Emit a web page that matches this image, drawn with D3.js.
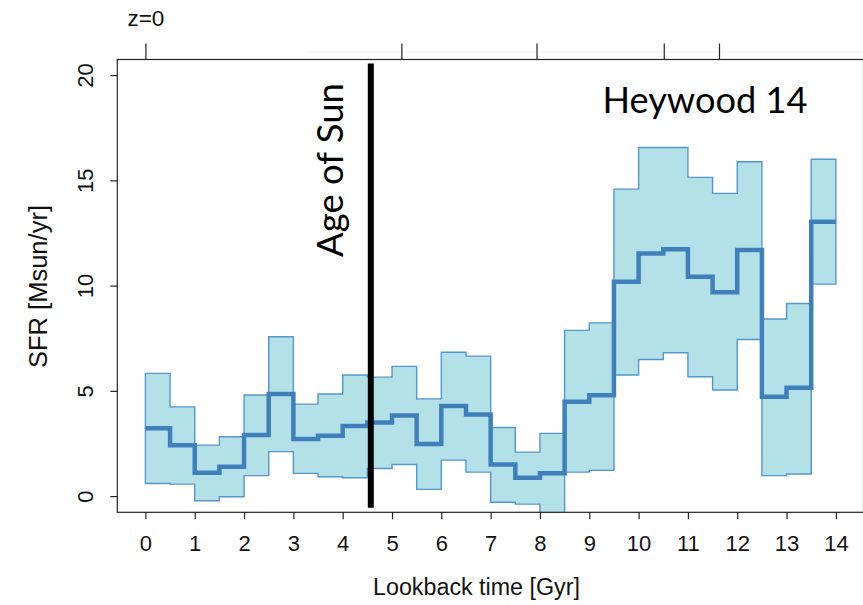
<!DOCTYPE html>
<html>
<head>
<meta charset="utf-8">
<script src="https://cdn.jsdelivr.net/npm/d3@7"></script>
<style>
  html, body { margin: 0; padding: 0; background: #fff; }
  svg { display: block; }
</style>
</head>
<body>
<svg id="chart" width="863" height="605"></svg>
<script>
// ---------- data ----------
const binEdges = d3.range(0, 14.01, 0.5);            // lookback time bin edges [Gyr]
const sfrMedian = [3.22, 2.42, 1.11, 1.39, 2.90, 4.85, 2.71, 2.87, 3.33, 3.50,
                   3.83, 2.47, 4.28, 3.88, 1.50, 0.87, 1.08, 4.48, 4.79, 10.18,
                   11.52, 11.73, 10.42, 9.68, 11.69, 4.72, 5.15, 13.03];
const sfrUpper  = [5.83, 4.24, 2.42, 2.82, 4.80, 7.57, 4.37, 4.85, 5.75, 5.65,
                   6.16, 4.62, 6.83, 6.65, 3.26, 2.09, 2.98, 7.87, 8.23, 14.58,
                   16.56, 16.56, 15.14, 14.38, 15.88, 8.41, 9.15, 16.00];
const sfrLower  = [0.60, 0.57, -0.22, -0.03, 0.97, 2.11, 1.08, 0.92, 0.87, 1.31,
                   1.50, 0.32, 1.71, 1.14, -0.29, -0.38, -1.50, 1.14, 1.22, 5.75,
                   6.49, 6.81, 5.67, 5.04, 7.44, 0.97, 1.05, 10.07];
const xTicks = d3.range(0, 15, 1);
const yTicks = [0, 5, 10, 15, 20];
const topTickLookback = [0, 5.19, 7.93, 10.51, 11.63];   // z = 0, 0.5, 1, 2, 3
const topTickLabels   = ["z=0", "", "", "", ""];
const sunAge = 4.57;
const sunLineSpan = [-0.55, 20.55];
const xTitle = "Lookback time [Gyr]";
const yTitle = "SFR [Msun/yr]";
const sunLabel = "Age of Sun";
const modelLabel = "Heywood 14";

// ---------- layout ----------
const svg = d3.select("#chart");
const box = { left: 117.3, right: 863.5, top: 59.5, bottom: 512.3 };
const x = d3.scaleLinear().domain([-0.57, 14.56]).range([box.left, box.right]);
const y = d3.scaleLinear().domain([-0.77, 20.74]).range([box.bottom, box.top]);

const axisFont = "'Liberation Sans', Arial, Helvetica, sans-serif";
const noteFont = "Lato, 'Open Sans', sans-serif";

function fitText(sel, target) {
  const fs = parseFloat(sel.attr("font-size"));
  const L = sel.node().getComputedTextLength();
  if (L > 0) sel.attr("font-size", fs * target / L);
  return sel;
}

// faint line at top (pasted-panel edge)
svg.append("line")
  .attr("x1", 307).attr("x2", 863).attr("y1", 52).attr("y2", 52)
  .attr("stroke", "#f0f0f0").attr("stroke-width", 1);

// clip
svg.append("defs").append("clipPath").attr("id", "plotclip")
  .append("rect")
  .attr("x", box.left).attr("y", box.top)
  .attr("width", box.right - box.left).attr("height", box.bottom - box.top);

// step data points
const pts = sfrMedian.map((m, i) => ({ t: binEdges[i], m, u: sfrUpper[i], l: sfrLower[i] }));
const last = pts[pts.length - 1];
pts.push({ t: binEdges[binEdges.length - 1], m: last.m, u: last.u, l: last.l });

const plot = svg.append("g").attr("clip-path", "url(#plotclip)");

const area = d3.area()
  .curve(d3.curveStepAfter)
  .x(d => x(d.t)).y0(d => y(d.l)).y1(d => y(d.u));
plot.append("path")
  .datum(pts)
  .attr("d", area)
  .attr("fill", "#b4e1e8")
  .attr("stroke", "#5596cc")
  .attr("stroke-width", 1.4)
  .attr("stroke-linejoin", "miter");

const line = d3.line()
  .curve(d3.curveStepAfter)
  .x(d => x(d.t)).y(d => y(d.m));
plot.append("path")
  .datum(pts)
  .attr("d", line)
  .attr("fill", "none")
  .attr("stroke", "#4080ba")
  .attr("stroke-width", 4.5)
  .attr("stroke-linejoin", "miter");

// Age of Sun line
svg.append("line")
  .attr("x1", x(sunAge)).attr("x2", x(sunAge))
  .attr("y1", y(sunLineSpan[1])).attr("y2", y(sunLineSpan[0]))
  .attr("stroke", "#000").attr("stroke-width", 6);

// box
svg.append("rect")
  .attr("x", box.left).attr("y", box.top)
  .attr("width", box.right - box.left).attr("height", box.bottom - box.top)
  .attr("fill", "none").attr("stroke", "#222").attr("stroke-width", 1.2);

// bottom axis
const xAxis = d3.axisBottom(x).tickValues(xTicks).tickSize(7).tickPadding(0).tickFormat(d3.format("d"));
const gx = svg.append("g").attr("transform", `translate(0,${box.bottom})`).call(xAxis);
gx.select(".domain").remove();
gx.selectAll(".tick line").attr("stroke", "#222").attr("stroke-width", 1.2);
gx.selectAll(".tick text")
  .attr("font-family", axisFont).attr("font-size", 22).attr("fill", "#111")
  .attr("dy", null).attr("y", 39);

// left axis (rotated labels)
const yAxis = d3.axisLeft(y).tickValues(yTicks).tickSize(7).tickFormat(d3.format("d"));
const gy = svg.append("g").attr("transform", `translate(${box.left},0)`).call(yAxis);
gy.select(".domain").remove();
gy.selectAll(".tick line").attr("stroke", "#222").attr("stroke-width", 1.2);
gy.selectAll(".tick text")
  .attr("font-family", axisFont).attr("font-size", 22).attr("fill", "#111")
  .attr("x", null).attr("dy", null)
  .attr("text-anchor", "middle")
  .attr("transform", `translate(${93 - box.left},0) rotate(-90)`);

// top axis (redshift ticks)
const xTop = d3.axisTop(x).tickValues(topTickLookback).tickSize(16).tickPadding(18)
  .tickFormat((d, i) => topTickLabels[i]);
const gt = svg.append("g").attr("transform", `translate(0,${box.top})`).call(xTop);
gt.select(".domain").remove();
gt.selectAll(".tick line").attr("stroke", "#222").attr("stroke-width", 1.2);
gt.selectAll(".tick text")
  .attr("font-family", axisFont).attr("font-size", 22.5).attr("fill", "#111")
  .attr("dy", null).attr("y", 26 - box.top);

// axis titles
const xt = svg.append("text")
  .attr("x", 476.5).attr("y", 595)
  .attr("text-anchor", "middle")
  .attr("font-family", axisFont).attr("font-size", 23).attr("fill", "#111")
  .text(xTitle);
fitText(xt, 207);

const yt = svg.append("text")
  .attr("transform", "translate(47,286.5) rotate(-90)")
  .attr("text-anchor", "middle")
  .attr("font-family", axisFont).attr("font-size", 23).attr("fill", "#111")
  .text(yTitle);
fitText(yt, 163);

// annotations
const st = svg.append("text")
  .attr("transform", "translate(343,170) rotate(-90)")
  .attr("text-anchor", "middle")
  .attr("font-family", noteFont).attr("font-size", 34).attr("fill", "#000")
  .text(sunLabel);
fitText(st, 174);

const ht = svg.append("text")
  .attr("x", 705).attr("y", 112.7)
  .attr("text-anchor", "middle")
  .attr("font-family", noteFont).attr("font-size", 36).attr("fill", "#000")
  .text(modelLabel);
fitText(ht, 205);
</script>
</body>
</html>
